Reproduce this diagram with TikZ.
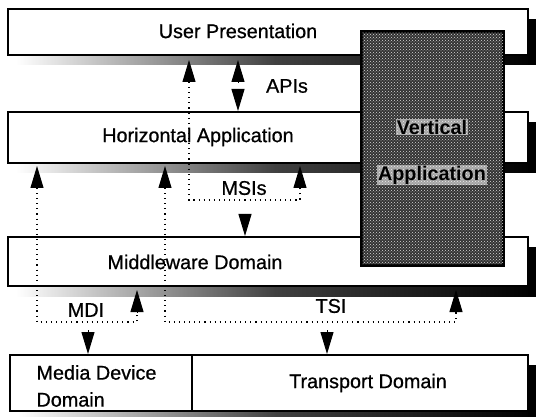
\documentclass[tikz,border=0pt]{standalone}
\usepackage{fontspec}
\setmainfont{Liberation Sans}
\newfontfamily\scanfont[FakeBold=0.7]{Liberation Sans}
\usetikzlibrary{arrows.meta, patterns}

\begin{document}
\begin{tikzpicture}[x=1pt, y=-1pt,
    box/.style={draw, line width=2pt, fill=white, inner sep=0pt},
    lbl/.style={font=\scanfont\fontsize{19.8}{22}\selectfont},
    head/.style={-{Triangle[length=22pt, width=13pt]}, line width=1pt},
    dots/.style={line width=1.1pt, dash pattern=on 1.1pt off 4pt}]
    \useasboundingbox (0,0) rectangle (536,417);
    \clip (0,0) rectangle (536,417);
    % shadows
    \foreach \xa/\ya/\xb/\yb in {8/9/528/55, 8/112/528/163, 8/237/528/286, 10/355/528/411}{
        \shade[left color=white, right color=black, middle color=black!75] (\xa+8,\yb) rectangle (\xb+8,\yb+10);
        \fill (\xb,\ya+10) rectangle (\xb+8,\yb+10);
    }
    % layers
    \node[box, minimum width=520pt, minimum height=46pt] (user) at (268,32) {};
    \node[box, minimum width=520pt, minimum height=51pt] (horiz) at (268,137.5) {};
    \node[box, minimum width=520pt, minimum height=49pt] (middle) at (268,261.5) {};
    \node[box, minimum width=182pt, minimum height=56pt] (media) at (101,383) {};
    \node[box, minimum width=336pt, minimum height=56pt] (transport) at (360,383) {};
    \node[lbl] (userT) at (238,31) {User Presentation};
    \node[lbl] (horizT) at (198,137) {Horizontal Application};
    \node[lbl] (middleT) at (195,262) {Middleware Domain};
    \node[lbl, font=\scanfont\fontsize{19.8}{27}\selectfont, align=left, anchor=west] (mediaT) at (33,386) {Media Device\\Domain};
    \node[lbl] (transportT) at (368,383) {Transport Domain};
    % vertical application
    \node[box, fill=black!80, minimum width=141pt, minimum height=233pt] (vert) at (432.5,148.5) {};
    \fill[pattern=crosshatch dots, pattern color=white!85!black] (vert.south west) rectangle (vert.north east);
    \draw[line width=2pt] (vert.south west) rectangle (vert.north east);
    \node[lbl, font=\fontsize{19.8}{22}\selectfont\bfseries, fill=white, fill opacity=0.55, text opacity=1, inner sep=1pt] (vertA) at (432,127) {Vertical};
    \node[lbl, font=\fontsize{19.8}{22}\selectfont\bfseries, fill=white, fill opacity=0.55, text opacity=1, inner sep=1pt] (vertB) at (432,175) {Application};
    % interface points
    \coordinate (apiLb) at (189,82);  \coordinate (apiLt) at (189,60);
    \coordinate (apiUb) at (238,82);  \coordinate (apiUt) at (238,60);
    \coordinate (apiDb) at (238,89);
    \coordinate (msiAb) at (37,188);  \coordinate (msiAt) at (37,166);
    \coordinate (msiBb) at (165,188); \coordinate (msiBt) at (165,166);
    \coordinate (msiCb) at (300,188); \coordinate (msiCt) at (300,166);
    \coordinate (msiDb) at (245,214);
    \coordinate (mdiUb) at (137,312); \coordinate (mdiUt) at (137,290);
    \coordinate (tsiUb) at (456,312); \coordinate (tsiUt) at (456,290);
    \coordinate (mdiDb) at (88,330);
    \coordinate (tsiDb) at (327,330);
    \coordinate (msiCorner) at (300,200);
    \coordinate (mdiCorner) at (137,322);
    \coordinate (tsiCorner) at (456,322);
    % dotted groupings
    \draw[dots] (apiLb) |- (msiCorner) -- (msiCb);
    \draw[dots] (msiAb) |- (mdiCorner) -- (mdiUb);
    \draw[dots] (msiBb) |- (tsiCorner) -- (tsiUb);
    % arrows
    \draw[head] (apiLb) -- (apiLt);
    \draw[head] (apiUb) -- (apiUt);
    \draw[head] (apiDb) -- (apiDb |- horiz.north);
    \draw[head] (msiAb) -- (msiAt);
    \draw[head] (msiBb) -- (msiBt);
    \draw[head] (msiCb) -- (msiCt);
    \draw[head] (msiDb) -- (msiDb |- middle.north);
    \draw[head] (mdiUb) -- (mdiUt);
    \draw[head] (tsiUb) -- (tsiUt);
    \draw[head] (mdiDb) -- (mdiDb |- media.north);
    \draw[head] (tsiDb) -- (tsiDb |- transport.north);
    % interface names
    \node[lbl] (apis) at (287,86) {APIs};
    \node[lbl] (msis) at (244,188) {MSIs};
    \node[lbl] (mdi) at (86,310) {MDI};
    \node[lbl] (tsi) at (331,306) {TSI};
\end{tikzpicture}
\end{document}
